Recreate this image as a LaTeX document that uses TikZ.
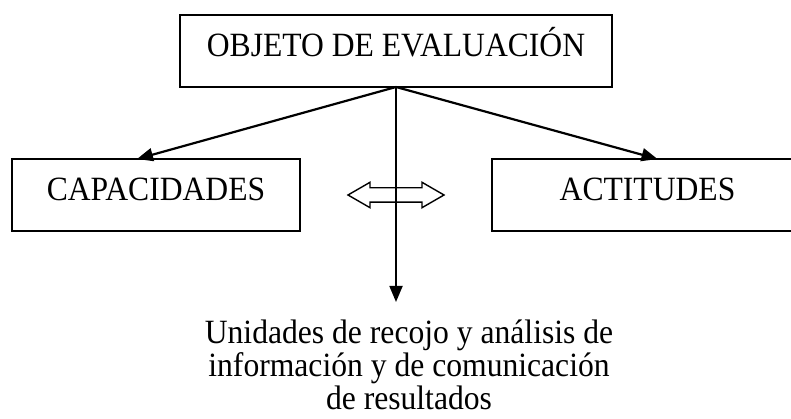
\documentclass[tikz,border=0pt]{standalone}
\usepackage{fontspec}
\setmainfont{Liberation Serif}[FakeStretch=0.93]
\usetikzlibrary{%
  arrows.meta,%
  positioning,% wg. " of "
  shapes.arrows% wg. double arrow
}

\begin{document}
\begin{tikzpicture}[->, >={Triangle[length=16pt,width=13pt]}, line width=2.2pt, x=1pt, y=1pt,
    every node/.style={font=\fontsize{34}{33}\selectfont},
    box/.style={draw, rectangle, line width=1.6pt, inner sep=0pt, outer sep=0pt, minimum height=72pt, text height=12pt, text depth=0pt}]
    \useasboundingbox (0,0) rectangle (791,419);
    \node[box, minimum width=432pt] (objeto) at (396,368) {OBJETO DE EVALUACIÓN};
    %capacidades und actitudes
    \node[box, minimum width=288pt] (capacidades) [below left=72pt and -120pt of objeto] {CAPACIDADES};
    \node[box, minimum width=311pt] (actitudes) [below right=72pt and -120pt of objeto] {ACTITUDES};
    %mitte
    \node[double arrow, draw, line width=1.4pt, minimum height=96pt, inner sep=6.5pt, double arrow head extend=5.5pt, double arrow tip angle=60] (enlace) at (396,224) {};
    \coordinate (fin) at (396,117);
    \node[align=center, inner sep=0pt] (unidades) [below=17pt of fin, xshift=13pt] {Unidades de recojo y análisis de\\ información y de comunicación\\ de resultados};
    \path[->]
     (objeto.south) edge ([xshift=-19pt]capacidades.north)
     (objeto.south) edge ([xshift=10pt]actitudes.north)
     (objeto.south) edge[line width=1.8pt] (fin);
\end{tikzpicture}
\end{document}
